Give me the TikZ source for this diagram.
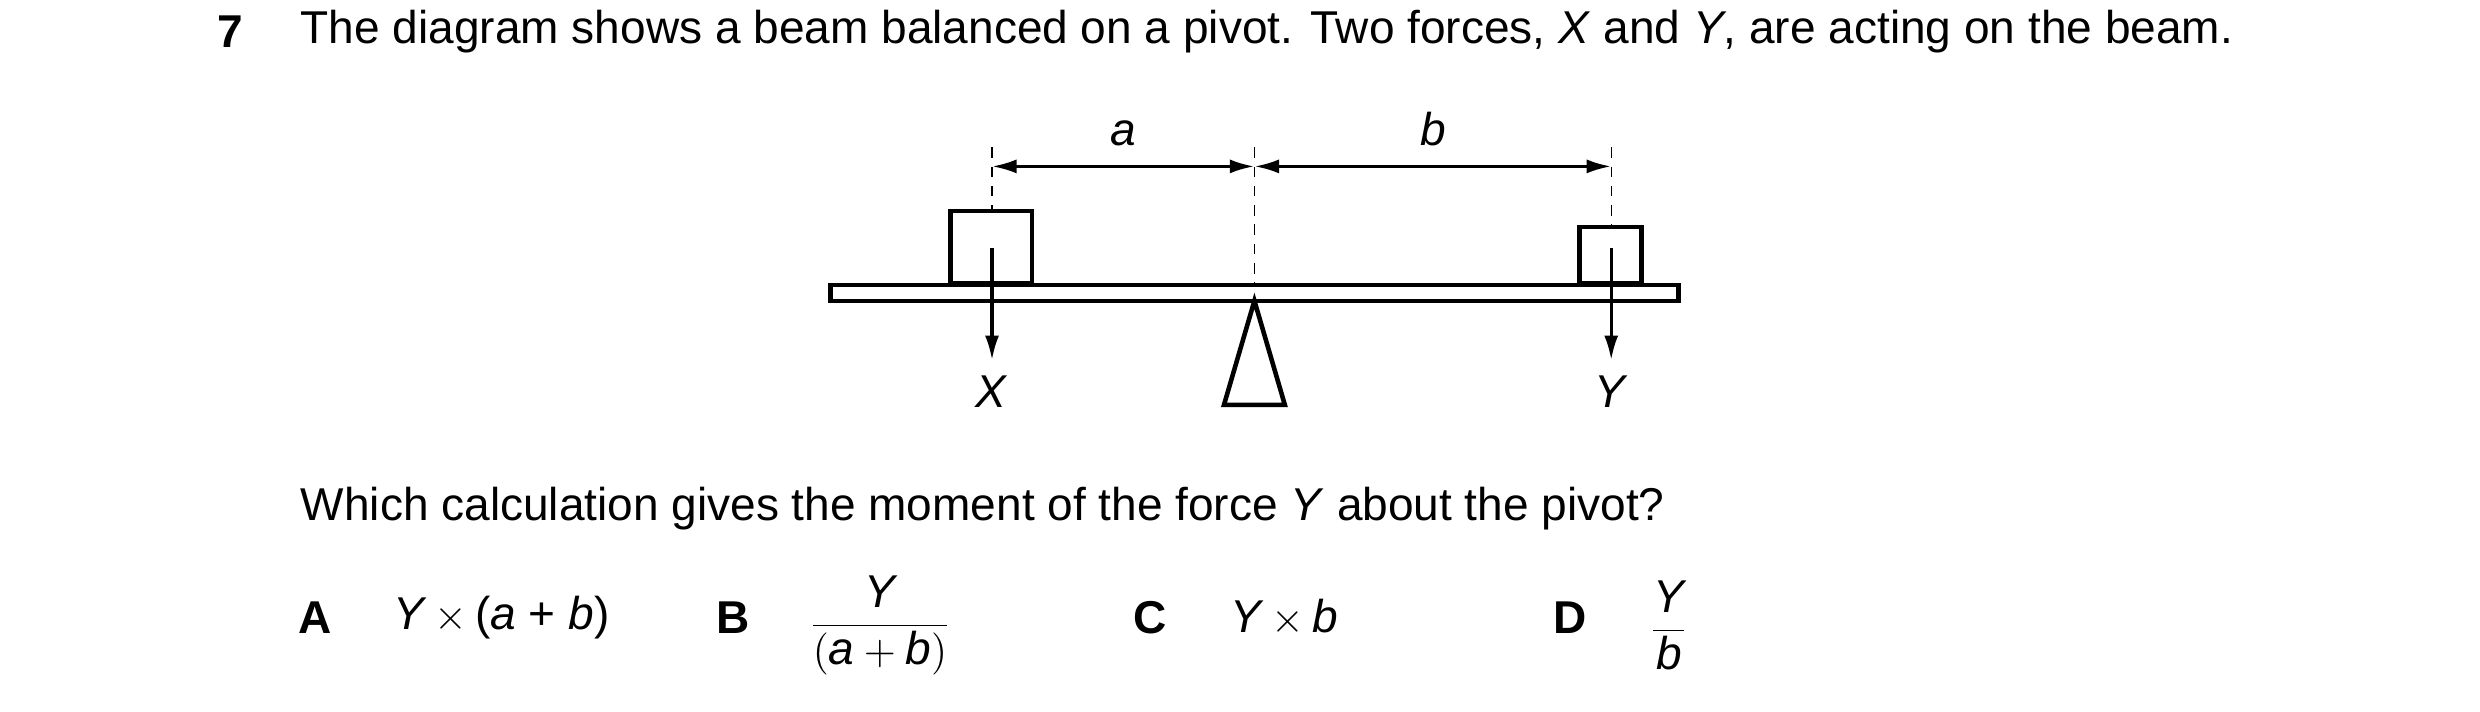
\documentclass[tikz,border=0pt]{standalone}
\usepackage{amsmath}
\usepackage{fontspec}
\setmainfont{Liberation Sans}
\usetikzlibrary{arrows.meta}
\begin{document}
\fontsize{13.1}{16}\selectfont
\begin{tikzpicture}[x=0.016cm,y=-0.016cm,
    thin line/.style={line width=0.9pt},
    dim/.style={thin line,{Latex[length=7pt,width=4pt]}-{Latex[length=7pt,width=4pt]}},
    force/.style={thin line,-{Latex[length=7pt,width=4pt]}},
    guide/.style={line width=0.4pt,dash pattern=on 3pt off 2.5pt}]
    \useasboundingbox (0,0) rectangle (1550,445);

    \node[anchor=west] (num) at (126,20) {\textbf{7}};
    \node[anchor=west] (intro) at (178,20) {The diagram shows a beam balanced on a pivot. Two forces, \textit{X} and \textit{Y}, are acting on the beam.};

    % guide lines
    \coordinate (ltop) at (620,92);
    \coordinate (mtop) at (784,92);
    \coordinate (rtop) at (1007,92);
    \draw[guide] (ltop) -- (620,132);
    \draw[guide] (mtop) -- (784,178);
    \draw[guide] (rtop) -- (1007,142);

    % distances
    \coordinate (la) at (620,104);
    \coordinate (ma) at (784,104);
    \coordinate (ra) at (1007,104);
    \draw[dim] (la) -- (ma) node[midway,above=1pt] (lbla) {\textit{a}};
    \draw[dim] (ma) -- (ra) node[midway,above=1pt] (lblb) {\textit{b}};

    % beam and loads
    \draw[thin line,line width=1.3pt] (519,178) rectangle (1049,188);
    \draw[thin line,line width=1.3pt] (594,132) rectangle (645,177);
    \draw[thin line,line width=1.3pt] (987,142) rectangle (1026,177);
    \draw[thin line,line width=1.3pt] (784,188) -- (765,253) -- (803,253) -- cycle;

    % forces
    \node (X) at (620,245) {\textit{X}};
    \node (Y) at (1007,245) {\textit{Y}};
    \coordinate (xs) at (620,155);
    \coordinate (ys) at (1007,155);
    \draw[force] (xs) -- (X.north);
    \draw[force] (ys) -- (Y.north);

    \node[anchor=west] (q) at (178,318) {Which calculation gives the moment of the force \textit{Y} about the pivot?};

    % options
    \node (A) at (197,386) {\textbf{A}};
    \node[anchor=west] (ansA) at (236,386) {\textit{Y}\,$\times$\,(\textit{a} + \textit{b})};
    \node (B) at (458,386) {\textbf{B}};
    \node (ansB) at (550,391) {$\dfrac{\textit{Y}}{(\textit{a}+\textit{b})}$};
    \node (C) at (719,386) {\textbf{C}};
    \node[anchor=west] (ansC) at (759,386) {\textit{Y}\,$\times$\,\textit{b}};
    \node (D) at (981,386) {\textbf{D}};
    \node (ansD) at (1043,391) {$\dfrac{\textit{Y}}{\textit{b}}$};
\end{tikzpicture}
\end{document}
